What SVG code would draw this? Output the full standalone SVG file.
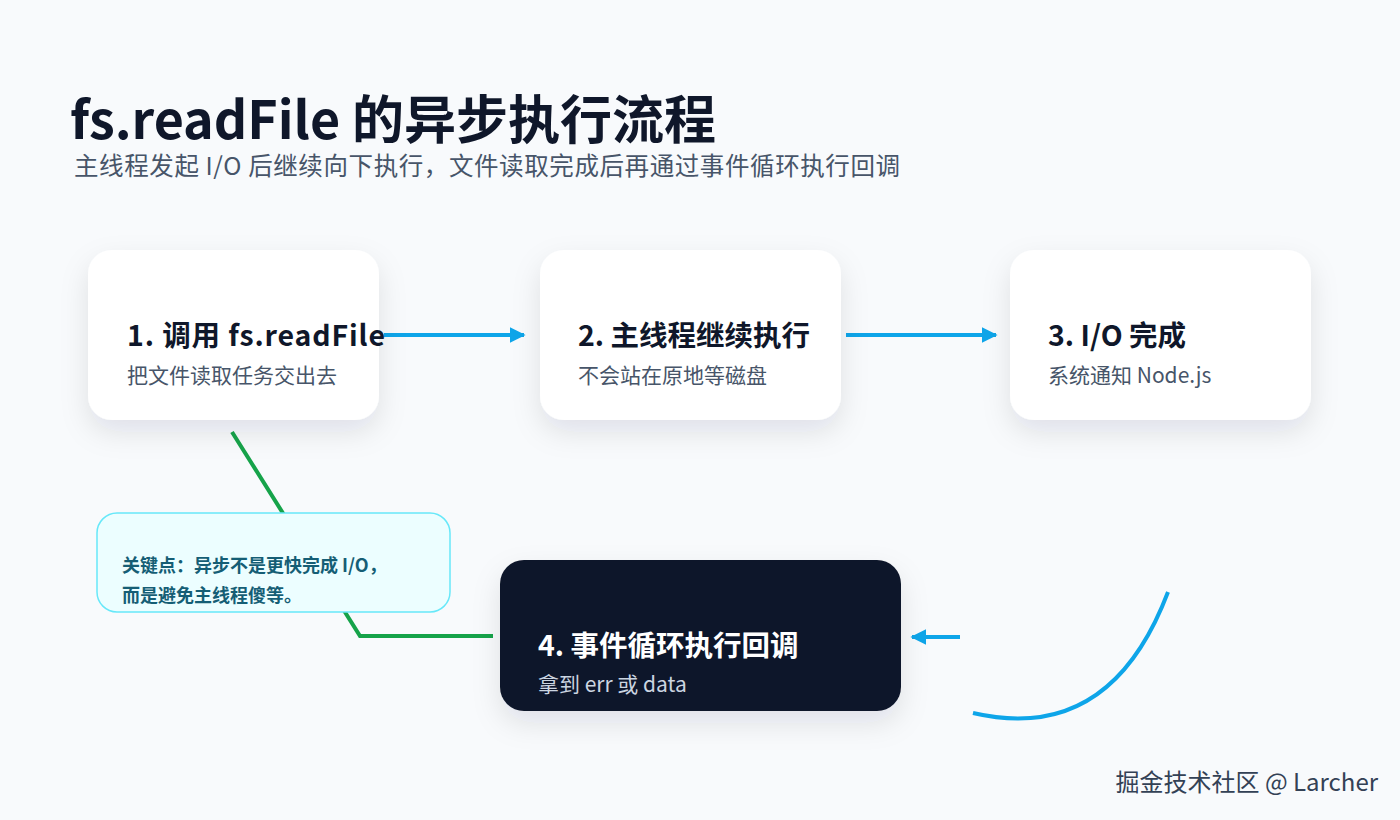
<svg xmlns="http://www.w3.org/2000/svg" width="1400" height="820" viewBox="0 0 1400 820">
<style>
.t{font-family:"Noto Sans CJK SC","Noto Sans",sans-serif}
.h{font-size:28.5px;font-weight:700;fill:#0f172a}
.s{font-size:21px;fill:#475569}
.c{fill:none;stroke:#0ea5e9;stroke-width:4}
</style>
<defs>
<filter id="sh" x="-30%" y="-30%" width="160%" height="170%"><feDropShadow dx="0" dy="12" stdDeviation="14" flood-color="#0f172a" flood-opacity="0.1"/></filter>
<marker id="a" viewBox="0 0 10 10" refX="9" refY="5" markerWidth="4" markerHeight="4" orient="auto"><path d="M0 0L10 5L0 10z" fill="#0ea5e9"/></marker>
</defs>
<rect width="1400" height="820" fill="#f8fafc"/>
<text class="t" x="70" y="139" font-size="52" font-weight="700" fill="#0f172a" textLength="646">fs.readFile 的异步执行流程</text>
<text class="t" x="74" y="175" font-size="24.5" fill="#475569" textLength="826">主线程发起 I/O 后继续向下执行，文件读取完成后再通过事件循环执行回调</text>
<g id="connectors">
<path d="M232 432L360 636L493 636" fill="none" stroke="#16a34a" stroke-width="4"/>
<path class="c" d="M384 335H524" marker-end="url(#a)"/>
<path class="c" d="M846 335H996" marker-end="url(#a)"/>
<path class="c" d="M960 637H912" marker-end="url(#a)"/>
<path class="c" d="M1168 592Q1110 745 973 713"/>
</g>
<g id="n1"><rect x="88" y="250" width="291" height="170" rx="24" fill="#fff" filter="url(#sh)"/>
<text class="t h" x="127" y="346" textLength="258">1. 调用 fs.readFile</text><text class="t s" x="127" y="383">把文件读取任务交出去</text></g>
<g id="n2"><rect x="540" y="250" width="301" height="170" rx="24" fill="#fff" filter="url(#sh)"/>
<text class="t h" x="578" y="346">2. 主线程继续执行</text><text class="t s" x="578" y="383">不会站在原地等磁盘</text></g>
<g id="n3"><rect x="1010" y="250" width="301" height="170" rx="24" fill="#fff" filter="url(#sh)"/>
<text class="t h" x="1048" y="346">3. I/O 完成</text><text class="t s" x="1048" y="383">系统通知 Node.js</text></g>
<g id="n4"><rect x="500" y="560" width="401" height="151" rx="24" fill="#0f172a" filter="url(#sh)"/>
<text class="t h" x="538" y="656" style="fill:#fff">4. 事件循环执行回调</text><text class="t s" x="538" y="692" style="fill:#cbd5e1">拿到 err 或 data</text></g>
<g id="note"><rect x="97" y="513" width="353" height="99" rx="20" fill="#ecfeff" stroke="#67e8f9" stroke-width="1.5"/>
<text class="t" x="122" y="572" font-size="18" font-weight="700" fill="#155e75">关键点：异步不是更快完成 I/O，</text>
<text class="t" x="122" y="602" font-size="18" font-weight="700" fill="#155e75">而是避免主线程傻等。</text></g>
<text class="t" x="1378" y="791" text-anchor="end" font-size="24" fill="#334155">掘金技术社区 @ Larcher</text>
</svg>
